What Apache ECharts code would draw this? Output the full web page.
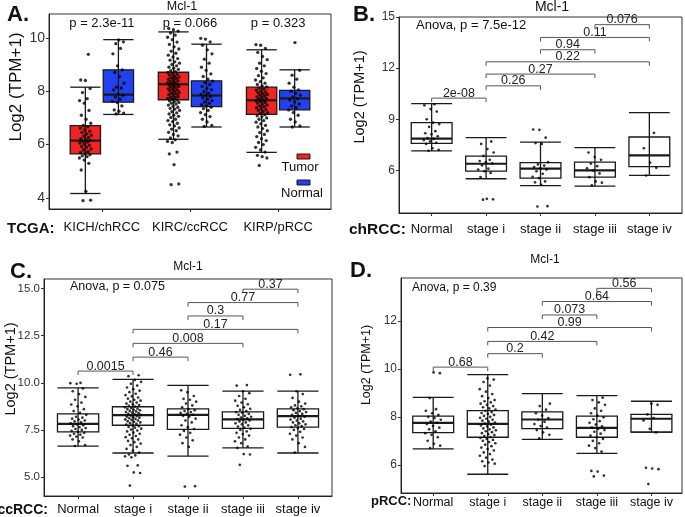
<!DOCTYPE html>
<html>
<head>
<meta charset="utf-8">
<script src="https://cdn.jsdelivr.net/npm/echarts@6/dist/echarts.min.js"></script>
<style>
  html, body { margin: 0; padding: 0; background: #fff; }
  #chart { width: 685px; height: 517px; }
</style>
</head>
<body>
<div id="chart"></div>
<script>
// ---- Panel A: TCGA tumor vs normal ----
const aCats = ['KICH/chRCC', 'KIRC/ccRCC', 'KIRP/pRCC'];
const aPvals = ['p = 2.3e-11', 'p = 0.066', 'p = 0.323'];
// [min, q1, median, q3, max]
const aTumorBox = [[4.17, 5.65, 6.15, 6.71, 8.15], [6.2, 7.68, 8.26, 8.71, 10.22], [5.71, 7.13, 7.66, 8.15, 9.55]];
const aNormalBox = [[7.13, 7.59, 7.87, 8.8, 9.93], [6.66, 7.42, 7.84, 8.39, 9.76], [6.66, 7.3, 7.73, 8.03, 8.8]];
const aTumorPts = [
  [3.9, 3.92, 4.25, 5.05, 5.3, 5.42, 5.5, 5.55, 5.58, 5.62, 5.66, 5.7, 5.74, 5.8, 5.84, 5.9, 5.93, 5.98, 6.02, 6.06, 6.1, 6.12, 6.16, 6.2, 6.22, 6.27, 6.32, 6.35, 6.4, 6.46, 6.5, 6.55, 6.62, 6.67, 6.72, 6.8, 6.95, 7.1, 7.28, 7.55, 7.65, 7.72, 7.95, 8.1, 8.4, 8.42, 9.38],
  [4.5, 4.53, 5.25, 5.65, 5.72, 6.08, 6.12, 6.18, 6.25, 6.33, 6.38, 6.46, 6.52, 6.58, 6.63, 6.7, 6.74, 6.8, 6.86, 6.9, 6.95, 7.02, 7.06, 7.1, 7.15, 7.19, 7.23, 7.28, 7.33, 7.36, 7.4, 7.44, 7.48, 7.52, 7.55, 7.58, 7.61, 7.64, 7.67, 7.7, 7.73, 7.76, 7.78, 7.81, 7.84, 7.87, 7.9, 7.92, 7.95, 7.98, 8.01, 8.04, 8.06, 8.09, 8.12, 8.15, 8.18, 8.2, 8.23, 8.26, 8.28, 8.31, 8.34, 8.36, 8.39, 8.42, 8.45, 8.48, 8.5, 8.53, 8.56, 8.6, 8.63, 8.66, 8.7, 8.73, 8.77, 8.82, 8.86, 8.9, 8.95, 9.0, 9.05, 9.1, 9.16, 9.22, 9.28, 9.35, 9.42, 9.5, 9.58, 9.66, 9.75, 9.84, 9.93, 10.02, 10.1, 10.18, 10.25, 10.3, 10.35],
  [5.22, 5.5, 5.55, 5.6, 5.72, 5.8, 5.9, 6.0, 6.08, 6.15, 6.22, 6.3, 6.38, 6.45, 6.52, 6.6, 6.66, 6.72, 6.78, 6.84, 6.9, 6.95, 7.0, 7.04, 7.08, 7.12, 7.16, 7.2, 7.24, 7.28, 7.31, 7.35, 7.38, 7.42, 7.45, 7.48, 7.52, 7.55, 7.58, 7.61, 7.64, 7.67, 7.7, 7.73, 7.76, 7.79, 7.82, 7.85, 7.88, 7.91, 7.94, 7.97, 8.0, 8.04, 8.08, 8.12, 8.16, 8.2, 8.25, 8.3, 8.36, 8.42, 8.5, 8.58, 8.66, 8.75, 8.85, 8.95, 9.05, 9.18, 9.3, 9.45, 9.6, 9.72, 9.74]
];
const aNormalPts = [
  [7.15, 7.18, 7.25, 7.3, 7.45, 7.58, 7.62, 7.7, 7.78, 7.85, 7.9, 8.05, 8.12, 8.15, 8.3, 8.55, 8.7, 8.8, 8.95, 9.4, 9.6, 9.78, 9.85, 9.92],
  [6.68, 6.72, 6.85, 6.95, 7.05, 7.12, 7.2, 7.28, 7.35, 7.4, 7.45, 7.5, 7.55, 7.6, 7.65, 7.7, 7.75, 7.8, 7.84, 7.88, 7.92, 7.98, 8.05, 8.1, 8.18, 8.25, 8.32, 8.38, 8.45, 8.55, 8.65, 8.78, 8.9, 9.05, 9.2, 9.4, 9.55, 9.72, 9.85, 9.95, 9.98],
  [6.66, 6.7, 6.85, 6.95, 7.1, 7.2, 7.3, 7.38, 7.45, 7.52, 7.6, 7.68, 7.72, 7.78, 7.85, 7.92, 8.0, 8.05, 8.15, 8.3, 8.45, 8.6, 8.78, 9.82]
];

// ---- Panels B, C, D: stages ----
const stageCats = ['Normal', 'stage i', 'stage ii', 'stage iii', 'stage iv'];

const bBox = [[7.14, 7.59, 7.86, 8.8, 9.92], [5.51, 5.96, 6.39, 6.84, 7.92], [5.11, 5.55, 6.1, 6.45, 7.66], [5.08, 5.6, 6.0, 6.49, 7.33], [5.71, 6.22, 6.88, 7.96, 9.39]];
const bPts = [
  [7.15, 7.2, 7.3, 7.55, 7.62, 7.7, 7.78, 7.85, 7.9, 8.0, 8.12, 8.18, 8.3, 8.55, 8.72, 8.8, 9.0, 9.45, 9.6, 9.82, 9.88],
  [4.28, 4.3, 4.33, 5.6, 5.85, 5.95, 6.05, 6.1, 6.3, 6.42, 6.48, 6.55, 6.62, 6.85, 7.05, 7.25, 7.55, 7.7],
  [3.88, 3.9, 5.15, 5.3, 5.35, 5.55, 5.62, 5.8, 5.95, 6.05, 6.12, 6.2, 6.28, 6.35, 6.48, 7.55, 7.6, 7.92, 8.38, 8.4],
  [5.12, 5.28, 5.35, 5.6, 5.82, 6.0, 6.12, 6.25, 6.4, 6.62, 6.78, 7.05],
  [5.7, 6.15, 6.45, 7.3, 8.2]
];
const bSig = [[0, 1, 10.24, '2e-08'], [1, 2, 10.96, '0.26'], [1, 3, 11.65, '0.27'], [1, 4, 12.37, '0.22'], [2, 3, 13.08, '0.94'], [2, 4, 13.8, '0.11'], [3, 4, 14.55, '0.076']];

const cBox = [[6.64, 7.4, 7.82, 8.35, 9.73], [6.28, 7.75, 8.29, 8.73, 10.18], [6.11, 7.53, 8.3, 8.62, 9.86], [6.55, 7.58, 8.06, 8.46, 9.56], [6.28, 7.65, 8.23, 8.62, 9.56]];
const cPts = [
  [6.65, 6.7, 6.9, 7.0, 7.1, 7.15, 7.2, 7.25, 7.3, 7.35, 7.4, 7.45, 7.5, 7.55, 7.6, 7.65, 7.7, 7.75, 7.8, 7.85, 7.9, 7.95, 8.0, 8.05, 8.1, 8.15, 8.2, 8.3, 8.4, 8.5, 8.6, 8.75, 8.85, 8.95, 9.1, 9.25, 9.4, 9.55, 9.7, 9.95, 9.98, 10.0],
  [4.55, 5.22, 5.25, 5.6, 5.62, 6.05, 6.1, 6.15, 6.2, 6.3, 6.4, 6.5, 6.6, 6.7, 6.78, 6.85, 6.92, 7.0, 7.06, 7.12, 7.18, 7.24, 7.3, 7.36, 7.42, 7.47, 7.52, 7.57, 7.62, 7.66, 7.7, 7.74, 7.78, 7.82, 7.86, 7.9, 7.93, 7.96, 8.0, 8.03, 8.06, 8.09, 8.12, 8.15, 8.18, 8.21, 8.24, 8.27, 8.3, 8.33, 8.36, 8.39, 8.42, 8.45, 8.48, 8.51, 8.54, 8.57, 8.6, 8.63, 8.66, 8.7, 8.74, 8.78, 8.82, 8.86, 8.9, 8.95, 9.0, 9.05, 9.1, 9.16, 9.22, 9.28, 9.35, 9.42, 9.5, 9.58, 9.66, 9.75, 9.85, 9.95, 10.05, 10.15, 10.35, 10.4],
  [4.5, 4.52, 6.6, 6.8, 6.95, 7.1, 7.25, 7.35, 7.45, 7.55, 7.65, 7.75, 7.9, 8.0, 8.1, 8.2, 8.25, 8.3, 8.35, 8.4, 8.45, 8.5, 8.55, 8.6, 8.7, 8.8, 8.9, 9.0, 9.1, 9.15, 9.3, 9.5, 9.6],
  [5.65, 6.2, 6.22, 6.55, 6.62, 6.8, 6.9, 7.0, 7.1, 7.2, 7.28, 7.35, 7.42, 7.5, 7.56, 7.62, 7.68, 7.74, 7.8, 7.85, 7.9, 7.95, 8.0, 8.04, 8.08, 8.12, 8.16, 8.2, 8.25, 8.3, 8.35, 8.4, 8.45, 8.5, 8.56, 8.62, 8.7, 8.78, 8.86, 8.95, 9.05, 9.15, 9.3, 9.45, 9.55, 9.85, 9.88],
  [6.3, 6.6, 6.8, 7.0, 7.1, 7.2, 7.3, 7.4, 7.5, 7.55, 7.6, 7.65, 7.7, 7.75, 7.8, 7.85, 7.9, 7.95, 8.0, 8.05, 8.1, 8.15, 8.2, 8.25, 8.3, 8.35, 8.4, 8.45, 8.5, 8.55, 8.6, 8.65, 8.7, 8.75, 8.8, 8.9, 9.0, 9.2, 9.4, 9.55, 10.42, 10.45]
];
const cSig = [[0, 1, 10.62, '0.0015'], [1, 2, 11.36, '0.46'], [1, 3, 12.09, '0.008'], [1, 4, 12.83, '0.17'], [2, 3, 13.54, '0.3'], [2, 4, 14.25, '0.77'], [3, 4, 14.96, '0.37']];

const dBox = [[6.67, 7.34, 7.75, 8.03, 8.81], [5.61, 7.15, 7.71, 8.26, 9.76], [7.06, 7.51, 7.89, 8.21, 8.97], [6.48, 7.15, 7.54, 8.03, 8.88], [7.36, 7.36, 7.92, 8.1, 8.65]];
const dPts = [
  [6.7, 6.8, 6.88, 7.0, 7.15, 7.25, 7.32, 7.4, 7.48, 7.55, 7.62, 7.7, 7.75, 7.8, 7.88, 7.95, 8.0, 8.08, 8.15, 8.25, 8.32, 8.78, 9.82, 9.85],
  [5.95, 6.05, 6.1, 6.15, 6.22, 6.3, 6.38, 6.45, 6.52, 6.6, 6.66, 6.72, 6.78, 6.84, 6.9, 6.95, 7.0, 7.04, 7.08, 7.12, 7.16, 7.2, 7.24, 7.28, 7.32, 7.36, 7.4, 7.44, 7.48, 7.52, 7.56, 7.6, 7.64, 7.68, 7.72, 7.76, 7.8, 7.84, 7.88, 7.92, 7.96, 8.0, 8.04, 8.08, 8.12, 8.16, 8.2, 8.25, 8.3, 8.35, 8.4, 8.45, 8.5, 8.55, 8.6, 8.65, 8.7, 8.78, 8.86, 8.95, 9.05, 9.15, 9.3, 9.45, 9.55, 9.6],
  [7.1, 7.25, 7.35, 7.45, 7.55, 7.62, 7.7, 7.8, 7.88, 7.95, 8.05, 8.15, 8.3, 8.45, 8.55],
  [5.52, 5.55, 5.72, 5.75, 6.55, 6.7, 6.8, 6.9, 7.0, 7.08, 7.15, 7.22, 7.3, 7.38, 7.45, 7.5, 7.55, 7.6, 7.68, 7.75, 7.82, 7.9, 7.98, 8.05, 8.15, 8.25, 8.35, 8.5, 8.6, 8.7, 8.8],
  [5.2, 5.82, 5.85, 5.88, 7.35, 7.5, 7.85, 7.95, 8.1, 8.5, 8.55]
];
const dSig = [[0, 1, 10.07, '0.68'], [1, 2, 10.63, '0.2'], [1, 3, 11.14, '0.42'], [1, 4, 11.72, '0.99'], [2, 3, 12.24, '0.073'], [2, 4, 12.8, '0.64'], [3, 4, 13.35, '0.56']];

// tick labels
const aTicks = [4, 6, 8, 10];
const bTicks = [6, 9, 12, 15];
const cTicks = [5, 7.5, 10, 12.5, 15];
const dTicks = [6, 8, 10, 12];

const FONT = '"Liberation Sans", Arial, Helvetica, sans-serif';
const RED = '#f22323';
const BLUE = '#2140f0';
const INK = '#1a1a1a';

// panel layout
const panels = [
  { grid: { left: 49, top: 14, width: 282, height: 195 }, x: [-0.6, 2.6], y: [3.59, 10.89], ticks: aTicks, cats: aCats, tickSize: 14, catSize: 13, catMargin: 12, fmt: v => String(v) },
  { grid: { left: 399, top: 17, width: 283, height: 196 }, x: [-0.6, 4.6], y: [3.5, 15], ticks: bTicks, cats: stageCats, tickSize: 12, catSize: 13, catMargin: 10, fmt: v => String(v) },
  { grid: { left: 44, top: 279, width: 288, height: 217 }, x: [-0.62, 4.62], y: [4.0, 15.5], ticks: cTicks, cats: stageCats, tickSize: 11.5, catSize: 13, catMargin: 7, fmt: v => v.toFixed(1) },
  { grid: { left: 401, top: 278, width: 281, height: 215 }, x: [-0.59, 4.56], y: [4.83, 13.78], ticks: dTicks, cats: stageCats, tickSize: 12, catSize: 12.5, catMargin: 3, fmt: v => String(v) }
];

function jit(i) {
  return ((i * 0.6180339887 + 0.31) % 1) * 2 - 1;
}

function renderBox(params, api) {
  const x = api.value(0), h = api.value(6);
  const tl = api.coord([x - h, api.value(4)]);
  const br = api.coord([x + h, api.value(2)]);
  const top = api.coord([x, api.value(5)]);
  const bot = api.coord([x, api.value(1)]);
  const med = api.coord([x, api.value(3)]);
  const ls = { stroke: INK, lineWidth: 1.3 };
  const rect = { x: tl[0], y: tl[1], width: br[0] - tl[0], height: br[1] - tl[1] };
  return {
    type: 'group',
    children: [
      { type: 'rect', shape: rect, style: { fill: api.visual('color') } },
      { type: 'line', shape: { x1: top[0], y1: top[1], x2: bot[0], y2: bot[1] }, style: ls },
      { type: 'line', shape: { x1: tl[0], y1: top[1], x2: br[0], y2: top[1] }, style: ls },
      { type: 'line', shape: { x1: tl[0], y1: bot[1], x2: br[0], y2: bot[1] }, style: ls },
      { type: 'rect', shape: rect, style: { fill: 'none', stroke: INK, lineWidth: 1.3 } },
      { type: 'line', shape: { x1: tl[0], y1: med[1], x2: br[0], y2: med[1] }, style: { stroke: INK, lineWidth: 2.2 } }
    ]
  };
}

function bracketRenderer(sig) {
  return function (params, api) {
    const p1 = api.coord([api.value(0), api.value(2)]);
    const p2 = api.coord([api.value(1), api.value(2)]);
    return {
      type: 'group',
      children: [
        { type: 'polyline', shape: { points: [[p1[0], p1[1] + 4], p1, p2, [p2[0], p2[1] + 4]] }, style: { stroke: '#555', lineWidth: 1, fill: 'none' } },
        { type: 'text', style: { text: sig[params.dataIndex][3], x: (p1[0] + p2[0]) / 2, y: p1[1] - 5, align: 'center', verticalAlign: 'middle', font: '12.5px ' + FONT, fill: '#222' } }
      ]
    };
  };
}

const xAxes = [], yAxes = [], grids = [], series = [];
panels.forEach((p, k) => {
  grids.push(Object.assign({ show: true, borderColor: '#333', borderWidth: 1, backgroundColor: '#fff' }, p.grid));
  const catIdx = p.cats.map((c, i) => i);
  xAxes.push({
    type: 'value', gridIndex: k, min: p.x[0], max: p.x[1],
    splitLine: { show: false },
    axisLine: { show: true, onZero: false, lineStyle: { color: '#222' } },
    axisTick: { show: true, length: 3, customValues: catIdx, lineStyle: { color: '#333' } },
    axisLabel: { customValues: catIdx, formatter: v => p.cats[Math.round(v)], fontFamily: FONT, fontSize: p.catSize, color: '#111', margin: p.catMargin }
  });
  yAxes.push({
    type: 'value', gridIndex: k, min: p.y[0], max: p.y[1],
    splitLine: { show: false },
    axisLine: { show: true, onZero: false, lineStyle: { color: '#222' } },
    axisTick: { show: true, length: 3, customValues: p.ticks, lineStyle: { color: '#333' } },
    axisLabel: { customValues: p.ticks, formatter: p.fmt, fontFamily: FONT, fontSize: p.tickSize, color: '#333', margin: 4 }
  });
});

function boxItem(x, b, half, color) {
  return { value: [x, b[0], b[1], b[2], b[3], b[4], half], itemStyle: { color: color } };
}
function scatterData(x, vals, w) {
  return vals.map((v, i) => [x + jit(i) * w, v]);
}

// panel A boxes and points
const aBoxData = [];
aCats.forEach((c, i) => {
  aBoxData.push(boxItem(i - 0.1875, aTumorBox[i], 0.172, RED));
  aBoxData.push(boxItem(i + 0.1875, aNormalBox[i], 0.172, BLUE));
});
series.push({ type: 'custom', xAxisIndex: 0, yAxisIndex: 0, renderItem: renderBox, data: aBoxData, z: 2 });
let aPts = [];
aCats.forEach((c, i) => {
  aPts = aPts.concat(scatterData(i - 0.1875, aTumorPts[i], 0.07), scatterData(i + 0.1875, aNormalPts[i], 0.07));
});
series.push({ type: 'scatter', xAxisIndex: 0, yAxisIndex: 0, data: aPts, symbolSize: 3.3, itemStyle: { color: '#000' }, z: 3 });
series.push({
  type: 'custom', xAxisIndex: 0, yAxisIndex: 0, z: 4,
  data: aCats.map((c, i) => [i, 10.55]),
  renderItem: (params, api) => {
    const pt = api.coord([api.value(0), api.value(1)]);
    return { type: 'text', style: { text: aPvals[params.dataIndex], x: pt[0], y: pt[1], align: 'center', verticalAlign: 'middle', font: '13px ' + FONT, fill: '#111' } };
  }
});

// panels B, C, D
[[bBox, bPts, bSig], [cBox, cPts, cSig], [dBox, dPts, dSig]].forEach(([boxes, pts, sig], j) => {
  const k = j + 1;
  series.push({ type: 'custom', xAxisIndex: k, yAxisIndex: k, renderItem: renderBox, z: 2, data: boxes.map((b, i) => boxItem(i, b, 0.375, '#fff')) });
  let sd = [];
  pts.forEach((vals, i) => { sd = sd.concat(scatterData(i, vals, 0.15)); });
  series.push({ type: 'scatter', xAxisIndex: k, yAxisIndex: k, data: sd, symbolSize: 2.7, itemStyle: { color: '#000' }, z: 3 });
  series.push({ type: 'custom', xAxisIndex: k, yAxisIndex: k, z: 4, renderItem: bracketRenderer(sig), data: sig.map(s => [s[0], s[1], s[2]]) });
});

function txt(text, x, y, size, opts) {
  opts = opts || {};
  return {
    type: 'text', x: x, y: y, rotation: opts.rot || 0,
    style: { text: text, align: opts.align || 'left', verticalAlign: 'middle', font: (opts.bold ? 'bold ' : '') + size + 'px ' + FONT, fill: opts.color || '#111' }
  };
}

const graphics = [
  txt('A.', 7, 15, 22, { bold: true }),
  txt('B.', 353, 15, 22, { bold: true }),
  txt('C.', 10, 272, 22, { bold: true }),
  txt('D.', 350, 271, 22, { bold: true }),
  txt('Mcl-1', 182, 7, 12.5, { align: 'center' }),
  txt('Mcl-1', 552, 7, 14, { align: 'center' }),
  txt('Mcl-1', 188, 267, 12, { align: 'center' }),
  txt('Mcl-1', 545, 260, 12, { align: 'center' }),
  txt('Anova, p = 7.5e-12', 416, 25, 13),
  txt('Anova, p = 0.075', 70, 287, 12.5),
  txt('Anova, p = 0.39', 412, 288, 12),
  txt('TCGA:', 7, 229, 15, { bold: true }),
  txt('chRCC:', 349, 230, 15.5, { bold: true }),
  txt('ccRCC:', 48, 510, 14, { bold: true, align: 'right' }),
  txt('pRCC:', 371, 501, 13, { bold: true }),
  txt('Log2 (TPM+1)', 16, 87, 17, { align: 'center', rot: Math.PI / 2 }),
  txt('Log2 (TPM+1)', 360, 97, 14.5, { align: 'center', rot: Math.PI / 2 }),
  txt('Log2 (TPM+1)', 11, 369, 14.5, { align: 'center', rot: Math.PI / 2 }),
  txt('Log2 (TPM+1)', 367, 365, 12.5, { align: 'center', rot: Math.PI / 2 }),
  // legend of panel A
  { type: 'rect', shape: { x: 297, y: 154, width: 13, height: 5 }, style: { fill: RED, stroke: INK, lineWidth: 1 }, z: 10 },
  txt('Tumor', 300, 167, 13, { align: 'center' }),
  { type: 'rect', shape: { x: 297, y: 180, width: 13, height: 5 }, style: { fill: BLUE, stroke: INK, lineWidth: 1 }, z: 10 },
  txt('Normal', 302, 193, 13, { align: 'center' })
];

const chart = echarts.init(document.getElementById('chart'), null, { renderer: 'canvas' });
chart.setOption({
  animation: false,
  backgroundColor: '#fff',
  grid: grids,
  xAxis: xAxes,
  yAxis: yAxes,
  series: series,
  graphic: graphics
});
</script>
</body>
</html>
